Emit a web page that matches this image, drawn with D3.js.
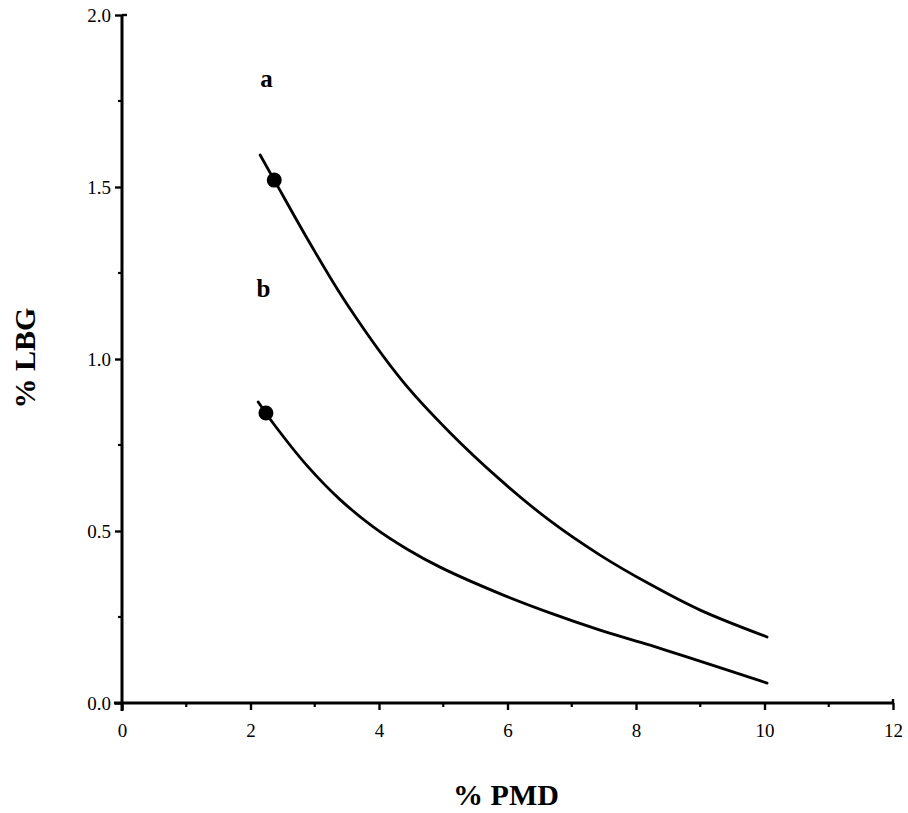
<!DOCTYPE html>
<html>
<head>
<meta charset="utf-8">
<script src="https://cdn.jsdelivr.net/npm/d3@7"></script>
<style>
  body { margin: 0; background: #fff; }
  svg { display: block; }
  text { font-family: "Liberation Serif", "Times New Roman", serif; fill: #000; }
</style>
</head>
<body>
<div id="chart"></div>
<script>
// values
const curveAx = [2.15, 2.37, 2.93, 3.50, 4.37, 5.11, 5.88, 6.66, 7.44, 8.22, 9.00, 10.04];
const curveAy = [1.593, 1.520, 1.335, 1.160, 0.935, 0.785, 0.650, 0.530, 0.430, 0.345, 0.270, 0.192];
const curveBx = [2.12, 2.24, 2.35, 2.88, 3.39, 3.91, 4.44, 4.95, 5.88, 6.66, 7.44, 8.22, 8.79, 10.04];
const curveBy = [0.875, 0.843, 0.814, 0.690, 0.592, 0.512, 0.447, 0.395, 0.318, 0.262, 0.212, 0.168, 0.134, 0.058];
const dotsX = [2.37, 2.24];
const dotsY = [1.520, 0.843];
const seriesLabels = ["a", "b"];
const labelX = [2.25, 2.2];
const labelY = [1.79, 1.18];
const xTicks = [0, 2, 4, 6, 8, 10, 12];
const xMinor = [1, 3, 5, 7, 9, 11];
const yTicks = [0, 0.5, 1.0, 1.5, 2.0];
const yMinor = [0.25, 0.75, 1.25, 1.75];

const width = 908, height = 813;
const x = d3.scaleLinear().domain([0, 12]).range([122, 893]);
const y = d3.scaleLinear().domain([0, 2]).range([703, 15]);

const svg = d3.select("#chart").append("svg")
  .attr("width", width)
  .attr("height", height);

// x axis
const xAxis = svg.append("g")
  .attr("transform", `translate(0,${y(0)})`)
  .call(d3.axisBottom(x).tickValues(xTicks).tickFormat(d3.format("d")).tickSize(7).tickPadding(14))
  .call(g => g.select(".domain").attr("d", `M${x(0) - 8},0H${x(12)}`).attr("stroke-width", 3));
xAxis.selectAll(".tick line").attr("stroke-width", 2.4);
xAxis.selectAll(".tick text").attr("font-size", 19);
xAxis.selectAll(".minor").data(xMinor).join("line")
  .attr("x1", d => x(d)).attr("x2", d => x(d))
  .attr("y1", 0).attr("y2", 4)
  .attr("stroke", "#000").attr("stroke-width", 2.2);
xAxis.append("line")
  .attr("x1", x(12)).attr("x2", x(12)).attr("y1", -4).attr("y2", 0)
  .attr("stroke", "#000").attr("stroke-width", 2.4);

// y axis
const yAxis = svg.append("g")
  .attr("transform", `translate(${x(0)},0)`)
  .call(d3.axisLeft(y).tickValues(yTicks).tickFormat(d3.format(".1f")).tickSize(7).tickPadding(4))
  .call(g => g.select(".domain").attr("d", `M0,${y(2)}V${y(0) + 8}`).attr("stroke-width", 3));
yAxis.selectAll(".tick line").attr("stroke-width", 2.4);
yAxis.selectAll(".tick text").attr("font-size", 19);
yAxis.selectAll(".minor").data(yMinor).join("line")
  .attr("x1", -4).attr("x2", 0)
  .attr("y1", d => y(d)).attr("y2", d => y(d))
  .attr("stroke", "#000").attr("stroke-width", 2.2);
yAxis.append("line")
  .attr("x1", 0).attr("x2", 5).attr("y1", y(2)).attr("y2", y(2))
  .attr("stroke", "#000").attr("stroke-width", 2.4);

// curves
const line = d3.line()
  .x(d => x(d[0]))
  .y(d => y(d[1]))
  .curve(d3.curveCatmullRom.alpha(0.5));

const curves = [
  d3.zip(curveAx, curveAy),
  d3.zip(curveBx, curveBy)
];

svg.append("g").selectAll("path")
  .data(curves)
  .join("path")
  .attr("d", line)
  .attr("fill", "none")
  .attr("stroke", "#000")
  .attr("stroke-width", 2.8)
  .attr("stroke-linecap", "round");

svg.append("g").selectAll("circle")
  .data(d3.zip(dotsX, dotsY))
  .join("circle")
  .attr("cx", d => x(d[0]))
  .attr("cy", d => y(d[1]))
  .attr("r", 7.5)
  .attr("fill", "#000");

svg.append("g").selectAll("text")
  .data(seriesLabels)
  .join("text")
  .attr("x", (d, i) => x(labelX[i]))
  .attr("y", (d, i) => y(labelY[i]))
  .attr("text-anchor", "middle")
  .attr("font-size", 25)
  .attr("font-weight", "bold")
  .text(d => d);

// axis titles
svg.append("text")
  .attr("x", 506)
  .attr("y", 805)
  .attr("text-anchor", "middle")
  .attr("font-size", 30)
  .attr("font-weight", "bold")
  .text("% PMD");

svg.append("text")
  .attr("transform", "translate(35,358) rotate(-90)")
  .attr("text-anchor", "middle")
  .attr("font-size", 30)
  .attr("font-weight", "bold")
  .text("% LBG");
</script>
</body>
</html>
